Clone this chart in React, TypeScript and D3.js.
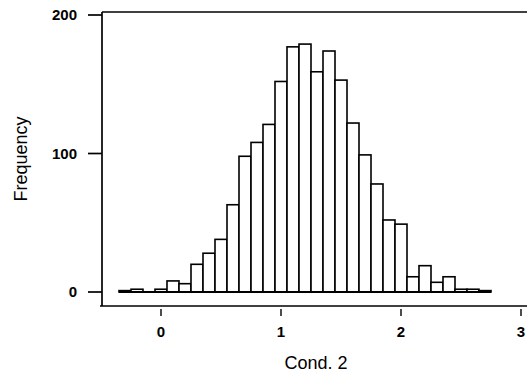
import React from "react";
import * as d3 from "d3";

const binCenters = [-0.3, -0.2, -0.1, 0.0, 0.1, 0.2, 0.3, 0.4, 0.5, 0.6, 0.7, 0.8, 0.9, 1.0, 1.1, 1.2, 1.3, 1.4, 1.5, 1.6, 1.7, 1.8, 1.9, 2.0, 2.1, 2.2, 2.3, 2.4, 2.5, 2.6, 2.7];
const frequencies = [1, 2, 0, 2, 8, 6, 20, 28, 38, 63, 98, 108, 121, 152, 177, 179, 159, 174, 153, 122, 99, 78, 52, 49, 11, 19, 7, 11, 2, 2, 1];
const binWidth = 0.1;
const xTicks = [0, 1, 2, 3];
const yTicks = [0, 100, 200];

const W = 527;
const H = 377;

export default function App() {
  const x = d3.scaleLinear().domain([0, 3]).range([161, 521]);
  const y = d3.scaleLinear().domain([0, 200]).range([292, 15]);
  const frameLeft = 102;
  const frameTop = 12;
  const frameBottom = 306;
  const font = "'Liberation Sans', Arial, Helvetica, sans-serif";

  const data = binCenters.map((c, i) => ({ c, v: frequencies[i] }));
  const first = binCenters[0] - binWidth / 2;
  const last = binCenters[binCenters.length - 1] + binWidth / 2;

  return (
    <svg
      width={W}
      height={H}
      viewBox={`0 0 ${W} ${H}`}
      style={{ position: "absolute", left: 0, top: 0, background: "#fff" }}
    >
      {/* frame */}
      <line x1={frameLeft} y1={frameTop} x2={W} y2={frameTop} stroke="#000" strokeWidth={1.7} />
      <line x1={frameLeft} y1={frameTop} x2={frameLeft} y2={frameBottom} stroke="#000" strokeWidth={1.7} />
      <line x1={frameLeft - 2} y1={frameBottom} x2={W} y2={frameBottom} stroke="#000" strokeWidth={1.7} />

      {/* y ticks */}
      {yTicks.map((t) => (
        <g key={"y" + t}>
          <line x1={frameLeft - 14} x2={frameLeft} y1={y(t)} y2={y(t)} stroke="#000" strokeWidth={1.7} />
          <text
            x={77}
            y={y(t)}
            dy="0.36em"
            textAnchor="end"
            fontFamily={font}
            fontWeight="bold"
            fontSize={15}
          >
            {t}
          </text>
        </g>
      ))}

      {/* x ticks */}
      {xTicks.map((t) => (
        <g key={"x" + t}>
          <line x1={x(t)} x2={x(t)} y1={frameBottom + 3} y2={frameBottom + 10} stroke="#000" strokeWidth={1.4} />
          <text
            x={x(t)}
            y={337}
            textAnchor="middle"
            fontFamily={font}
            fontWeight="bold"
            fontSize={15}
          >
            {t}
          </text>
        </g>
      ))}

      {/* bars */}
      {data.map((d, i) => (
        <rect
          key={i}
          x={x(d.c - binWidth / 2)}
          y={y(d.v)}
          width={x(d.c + binWidth / 2) - x(d.c - binWidth / 2)}
          height={y(0) - y(d.v)}
          fill="#fff"
          stroke="#000"
          strokeWidth={1.6}
        />
      ))}
      <line x1={x(first)} x2={x(last)} y1={y(0)} y2={y(0)} stroke="#000" strokeWidth={1.8} />

      {/* axis titles */}
      <text
        x={316}
        y={369}
        textAnchor="middle"
        fontFamily={font}
        fontSize={18}
      >
        Cond. 2
      </text>
      <text
        transform={`translate(27, 159) rotate(-90)`}
        textAnchor="middle"
        fontFamily={font}
        fontSize={18}
      >
        Frequency
      </text>
    </svg>
  );
}
